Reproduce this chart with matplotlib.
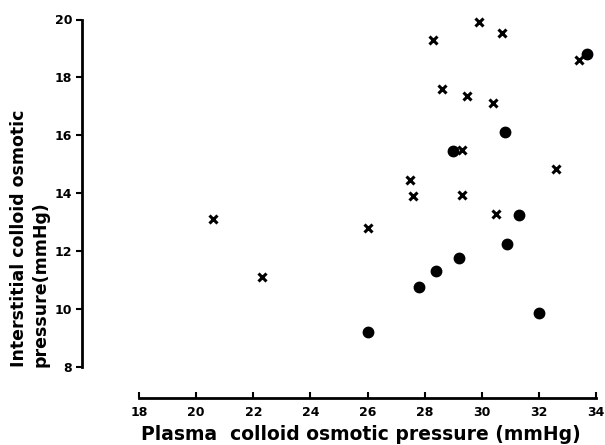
import matplotlib
matplotlib.use("Agg")
import matplotlib.pyplot as plt

plt.rcParams['font.family'] = ['Liberation Sans', 'DejaVu Sans']

# Crosses
cross_x = [20.6, 22.3, 26.0, 29.9, 30.7, 28.3, 33.4, 28.6, 29.5, 30.4, 29.3, 32.6, 27.5, 27.6, 29.3, 30.5]
cross_y = [13.1, 11.1, 12.8, 19.9, 19.55, 19.3, 18.6, 17.6, 17.35, 17.1, 15.5, 14.85, 14.45, 13.9, 13.95, 13.3]
# Filled circles
dot_x = [26.0, 27.8, 28.4, 29.2, 30.9, 32.0, 33.7, 30.8, 29.0, 31.3]
dot_y = [9.2, 10.75, 11.3, 11.75, 12.25, 9.85, 18.8, 16.1, 15.45, 13.25]

xticks = [18, 20, 22, 24, 26, 28, 30, 32, 34]
yticks = [8, 10, 12, 14, 16, 18, 20]

W, H = 605, 445
fig = plt.figure(figsize=(W / 100, H / 100), dpi=100)
ax = fig.add_axes([82 / W, 1 - 398 / H, (596 - 82) / W, (398 - 19.5) / H])
ax.set_xlim(16.0, 34.0)
ax.set_ylim(6.93, 20.0)

ax.plot(cross_x, cross_y, linestyle='none', marker='x', color='black',
        markersize=5.5, markeredgewidth=2.2, clip_on=False)
ax.plot(dot_x, dot_y, linestyle='none', marker='o', color='black',
        markersize=7.5, clip_on=False)

for s in ['top', 'right']:
    ax.spines[s].set_visible(False)
ax.spines['left'].set_bounds(8, 20)
ax.spines['bottom'].set_bounds(18, 34)
ax.spines['left'].set_linewidth(2)
ax.spines['bottom'].set_linewidth(2)

ax.set_xticks(xticks)
ax.set_xticklabels([str(t) for t in xticks])
ax.set_yticks(yticks)
ax.set_yticklabels([str(t) for t in yticks])
ax.tick_params(axis='x', direction='in', length=4, width=1.5, pad=6, labelsize=9)
ax.tick_params(axis='y', direction='out', length=4, width=1.5, pad=3, labelsize=9)
for lab in ax.get_xticklabels() + ax.get_yticklabels():
    lab.set_fontweight('bold')
    lab.set_family('DejaVu Sans')

fig.text(361 / W, 1 - 435 / H, 'Plasma  colloid osmotic pressure (mmHg)',
         ha='center', va='center', fontsize=13.5, fontweight='bold', family='DejaVu Sans')
fig.text(19 / W, 1 - 367 / H, 'Interstitial colloid osmotic',
         rotation=90, ha='center', va='bottom', fontsize=12.5, fontweight='bold', family='DejaVu Sans')
fig.text(41 / W, 1 - 367 / H, 'pressure(mmHg)',
         rotation=90, ha='center', va='bottom', fontsize=12.5, fontweight='bold', family='DejaVu Sans')

fig.savefig('out.png', dpi=100)
